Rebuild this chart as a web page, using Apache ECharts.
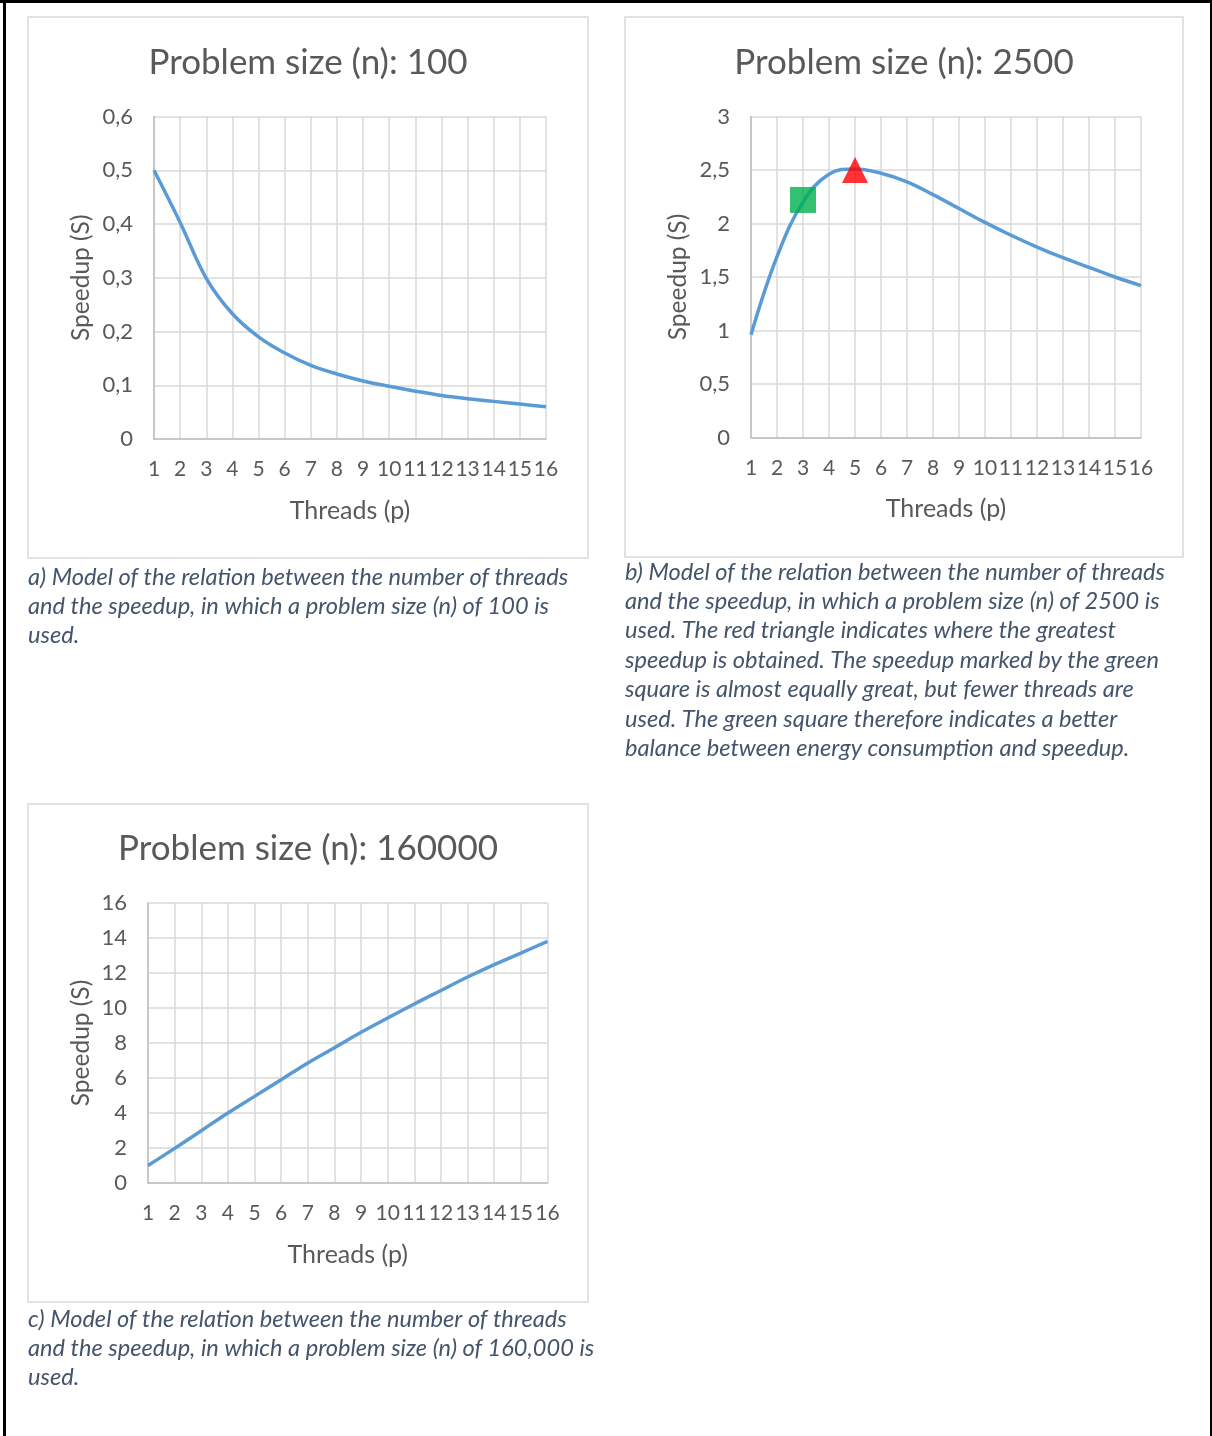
<!DOCTYPE html>
<html>
<head>
<meta charset="utf-8">
<script src="https://cdn.jsdelivr.net/npm/echarts@6/dist/echarts.min.js"></script>
<style>
  html, body { margin: 0; padding: 0; background: #fff; }
  #chart { width: 1212px; height: 1436px; }
</style>
</head>
<body>
<div id="chart"></div>
<script>
// speedup models
const threads = ['1', '2', '3', '4', '5', '6', '7', '8', '9', '10', '11', '12', '13', '14', '15', '16']
const speedupN100 = [0.5, 0.403, 0.299, 0.233, 0.19, 0.16, 0.137, 0.121, 0.108, 0.098, 0.089, 0.081, 0.075, 0.07, 0.065, 0.06]
const speedupN2500 = [0.96, 1.69, 2.2, 2.46, 2.51, 2.47, 2.39, 2.27, 2.14, 2.01, 1.89, 1.78, 1.68, 1.59, 1.5, 1.42]
const speedupN160000 = [1.0, 1.98, 2.99, 4.0, 4.95, 5.9, 6.86, 7.73, 8.61, 9.43, 10.23, 11.0, 11.77, 12.48, 13.14, 13.81]
const greatestSpeedup = ['5', 2.5]   // red triangle
const balancedSpeedup = ['3', 2.22]  // green square

const titles = ['Problem size (n): 100', 'Problem size (n): 2500', 'Problem size (n): 160000']
const captionA = [
  'a) Model of the relation between the number of threads',
  'and the speedup, in which a problem size (n) of 100 is',
  'used.'
]
const captionB = [
  'b) Model of the relation between the number of threads',
  'and the speedup, in which a problem size (n) of 2500 is',
  'used. The red triangle indicates where the greatest',
  'speedup is obtained. The speedup marked by the green',
  'square is almost equally great, but fewer threads are',
  'used. The green square therefore indicates a better',
  'balance between energy consumption and speedup.'
]
const captionC = [
  'c) Model of the relation between the number of threads',
  'and the speedup, in which a problem size (n) of 160,000 is',
  'used.'
]

const FONT = 'Lato, "Open Sans", sans-serif'
const TEXT = '#595959'
const GRID_LINE = '#D9D9D9'
const AXIS_LINE = '#BFBFBF'
const LINE_BLUE = '#5B9BD5'
const CAPTION = '#44546A'

const comma = v => String(v).replace('.', ',')

function xAxisFor(gridIndex) {
  return {
    type: 'category',
    gridIndex,
    data: threads,
    boundaryGap: false,
    name: 'Threads (p)',
    nameLocation: 'middle',
    nameGap: 59,
    nameTextStyle: { color: TEXT, fontSize: 25, fontFamily: FONT },
    axisLine: { lineStyle: { color: AXIS_LINE, width: 1.5 } },
    axisTick: { show: false },
    axisLabel: { interval: 0, color: TEXT, fontSize: 21, fontFamily: FONT, margin: 20 },
    splitLine: { show: true, lineStyle: { color: GRID_LINE, width: 1.5 } }
  }
}

function yAxisFor(gridIndex, max, interval, nameGap) {
  return {
    type: 'value',
    gridIndex,
    min: 0,
    max,
    interval,
    name: 'Speedup (S)',
    nameLocation: 'middle',
    nameGap,
    nameTextStyle: { color: TEXT, fontSize: 24.5, fontFamily: FONT },
    axisLine: { show: true, lineStyle: { color: AXIS_LINE, width: 1.5 } },
    axisTick: { show: false },
    axisLabel: { color: TEXT, fontSize: 22, fontFamily: FONT, margin: 21, formatter: comma },
    splitLine: { lineStyle: { color: GRID_LINE, width: 1.5 } }
  }
}

function captionLines(lines, x, y0) {
  return lines.map((t, i) => ({
    type: 'text',
    left: x,
    top: y0 + i * 29.4,
    silent: true,
    style: { text: t, fill: CAPTION, fontSize: 23.6, fontStyle: 'italic', fontFamily: FONT }
  }))
}

function panel(x, y, w, h) {
  return {
    type: 'rect',
    silent: true,
    shape: { x, y, width: w, height: h },
    style: { fill: 'none', stroke: GRID_LINE, lineWidth: 1.5 }
  }
}

function frameLine(x1, y1, x2, y2, width) {
  return { type: 'line', silent: true, shape: { x1, y1, x2, y2 }, style: { stroke: '#000', lineWidth: width } }
}

const chart = echarts.init(document.getElementById('chart'))

chart.setOption({
  animation: false,
  backgroundColor: '#fff',
  textStyle: { fontFamily: FONT },
  title: [
    { text: titles[0], left: 308, top: 45, textAlign: 'center', padding: 0 },
    { text: titles[1], left: 904, top: 45, textAlign: 'center', padding: 0 },
    { text: titles[2], left: 308, top: 831, textAlign: 'center', padding: 0 }
  ].map(t => ({ ...t, textStyle: { color: TEXT, fontSize: 35, fontWeight: 'normal', fontFamily: FONT } })),
  grid: [
    { left: 154, top: 116.5, width: 392, height: 322.5 },
    { left: 751, top: 116.5, width: 390, height: 321 },
    { left: 148, top: 903, width: 399.5, height: 280 }
  ],
  xAxis: [xAxisFor(0), xAxisFor(1), xAxisFor(2)],
  yAxis: [yAxisFor(0, 0.6, 0.1, 60), yAxisFor(1, 3, 0.5, 60), yAxisFor(2, 16, 2, 54)],
  series: [
    {
      type: 'line', xAxisIndex: 0, yAxisIndex: 0, data: speedupN100,
      smooth: 0.4, showSymbol: false, lineStyle: { color: LINE_BLUE, width: 3.5 }
    },
    {
      type: 'line', xAxisIndex: 1, yAxisIndex: 1, data: speedupN2500,
      smooth: 0.4, showSymbol: false, lineStyle: { color: LINE_BLUE, width: 3.5 }
    },
    {
      type: 'line', xAxisIndex: 2, yAxisIndex: 2, data: speedupN160000,
      smooth: 0.4, showSymbol: false, lineStyle: { color: LINE_BLUE, width: 3.5 }
    },
    {
      type: 'scatter', xAxisIndex: 1, yAxisIndex: 1, data: [balancedSpeedup],
      symbol: 'rect', symbolSize: 26, itemStyle: { color: '#00B050' }, z: 5
    },
    {
      type: 'scatter', xAxisIndex: 1, yAxisIndex: 1, data: [greatestSpeedup],
      symbol: 'triangle', symbolSize: 26, itemStyle: { color: '#FF0000' }, z: 5
    }
  ],
  graphic: [
    panel(28, 17, 560, 541),
    panel(625, 17, 558, 540),
    panel(28, 804, 560, 498),
    frameLine(0, 1.5, 1212, 1.5, 3),
    frameLine(4.5, 0, 4.5, 1436, 3),
    frameLine(1211, 0, 1211, 1436, 2),
    ...captionLines(captionA, 28, 565),
    ...captionLines(captionB, 625, 560),
    ...captionLines(captionC, 28, 1307)
  ]
})
</script>
</body>
</html>
